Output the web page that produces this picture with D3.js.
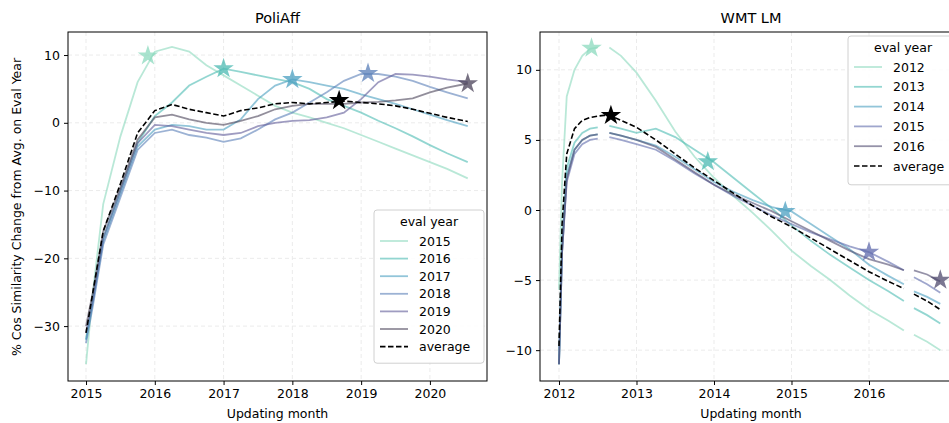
<!DOCTYPE html>
<html><head><meta charset="utf-8">
<script src="https://cdn.jsdelivr.net/npm/d3@7"></script>
<style>body{margin:0;background:#fff}text{font-family:"DejaVu Sans",sans-serif}</style>
</head><body><svg id="chart" width="949" height="423"></svg>
<script>
// PoliAff panel
const leftDates = [2015, 2015.1, 2015.25, 2015.5, 2015.75, 2016, 2016.25, 2016.5, 2016.75, 2017, 2017.25, 2017.5, 2017.75, 2018, 2018.25, 2018.5, 2018.75, 2019, 2019.25, 2019.5, 2019.75, 2020, 2020.25, 2020.55]
const leftYears = ["2015", "2016", "2017", "2018", "2019", "2020"]
const leftSeries = [
	[-35.6, -25, -12, -2, 6, 10.5, 11.2, 10.5, 8.5, 7, 5.5, 4, 2.5, 1.5, 0.8, 0, -0.8, -1.8, -2.8, -3.8, -4.8, -5.8, -6.8, -8.2],
	[-32, -26, -17, -10, -3, 1, 3, 5.5, 6.8, 8, 7.5, 7, 6.5, 6, 5, 3.5, 2.5, 1.5, 0.3, -0.8, -2, -3.3, -4.5, -5.8],
	[-32, -26.5, -17.5, -10.5, -3.5, -1, -0.3, -0.5, -1, -1, 0.5, 3.5, 5.5, 6.4, 6, 5.5, 5, 4.2, 3.5, 2.8, 2, 1.2, 0.4, -0.5],
	[-32.5, -27, -18, -11, -4, -1.5, -1, -1.8, -2.2, -2.8, -2.3, -1, 0.5, 1.5, 3, 4.5, 6.2, 7.2, 7.2, 6.8, 6.2, 5.3, 4.5, 3.6],
	[-31, -26, -17, -10, -3, -0.3, -0.5, -1, -1.5, -1.8, -1.5, -0.5, 0, 0.3, 0.4, 0.8, 1.5, 3.5, 6, 7.2, 7.1, 6.8, 6.4, 6],
	[-30, -25, -16, -9.5, -2.5, 0.8, 1.2, 0.5, 0, -0.3, 0.3, 1, 2, 2.5, 2.8, 2.8, 2.8, 3, 3.1, 3.3, 3.6, 4.5, 5.2, 5.8]
]
const leftAvg = [-31, -25, -16, -9, -1.5, 1.8, 2.7, 2, 1.5, 1, 1.8, 2.2, 2.8, 3, 2.8, 3, 3.2, 3, 2.8, 2.5, 2, 1.4, 0.8, 0.2]
const leftStars = [[0, 2015.9, 9.9], [1, 2017.0, 8.0], [2, 2018.0, 6.4], [3, 2019.1, 7.3], [5, 2020.55, 5.8], [-1, 2018.68, 3.3]]
const leftColors = ["#8bd9bd", "#4bbab2", "#4a9fc0", "#5a7fb8", "#5f5a98", "#4a4258"]

// WMT LM panel (null = gap)
const rightDates = [2012, 2012.04, 2012.1, 2012.2, 2012.3, 2012.4, 2012.5, 2012.58, 2012.65, 2012.8, 2013, 2013.25, 2013.5, 2013.75, 2014, 2014.25, 2014.5, 2014.75, 2015, 2015.25, 2015.5, 2015.75, 2016, 2016.25, 2016.45, 2016.5, 2016.58, 2016.75, 2016.92]
const rightYears = ["2012", "2013", "2014", "2015", "2016"]
const rightSeries = [
	[-5.7, 2, 8.1, 10, 11, 11.5, 11.6, null, 11.6, 11, 9.8, 7.8, 5.6, 3.8, 2.3, 1, -0.2, -1.5, -2.9, -4, -5, -6.1, -7.1, -7.9, -8.6, null, -8.9, -9.4, -10.0],
	[-11, -2, 3, 4.8, 5.5, 5.8, 5.9, null, 6.0, 5.8, 5.5, 5.8, 5.2, 4.3, 3.4, 2.3, 1.2, 0.1, -1.1, -2.2, -3.2, -4.1, -5.0, -5.8, -6.5, null, -7.0, -7.5, -8.1],
	[-11, -3, 2.5, 4.3, 5, 5.3, 5.4, null, 5.5, 5.3, 5.0, 4.6, 3.8, 2.9, 2.0, 1.3, 0.7, 0.2, -0.1, -1.0, -1.9, -2.8, -3.9, -4.7, -5.3, null, -5.8, -6.2, -6.7],
	[-11, -3, 2, 4, 4.7, 5, 5.1, null, 5.2, 5.0, 4.7, 4.3, 3.5, 2.6, 1.8, 1.0, 0.3, -0.4, -1.0, -1.6, -2.1, -2.6, -3.0, -3.7, -4.3, null, -4.8, -5.3, -5.9],
	[-11, -3, 2.2, 4.3, 5.0, 5.3, 5.4, null, 5.5, 5.3, 5.0, 4.5, 3.6, 2.7, 1.8, 1.1, 0.5, -0.1, -0.8, -1.5, -2.2, -2.9, -3.5, -3.9, -4.3, null, -4.3, -4.6, -5.1]
]
const rightAvg = [-9.7, -1, 4, 5.8, 6.4, 6.6, 6.7, 6.75, 6.75, 6.4, 5.9, 5.0, 4.0, 3.0, 2.1, 1.2, 0.3, -0.5, -1.2, -2.0, -2.8, -3.6, -4.4, -5.1, -5.6, null, -6.0, -6.5, -7.1]
const rightStars = [[0, 2012.42, 11.55], [1, 2013.92, 3.45], [2, 2014.92, -0.1], [3, 2016.0, -3.0], [4, 2016.92, -5.0], [-1, 2012.67, 6.75]]
const rightColors = ["#8bd9bd", "#4bbab2", "#4a9fc0", "#5f6aac", "#4f4a6e"]

const svg = d3.select("#chart")

function panel(opt) {
	const g = svg.append("g")
	const x = d3.scaleLinear().domain(opt.xDomain).range([opt.left, opt.right])
	const y = d3.scaleLinear().domain(opt.yDomain).range([381, 32])
	const clipId = "clip" + opt.id
	svg.append("clipPath").attr("id", clipId).append("rect")
		.attr("x", opt.left).attr("y", 32).attr("width", opt.right - opt.left).attr("height", 349)

	// grid
	g.append("g").selectAll("line").data(opt.xTicks).join("line")
		.attr("x1", d => x(d)).attr("x2", d => x(d)).attr("y1", 32).attr("y2", 381)
		.attr("stroke", "#ebebeb").attr("stroke-dasharray", "4,3")
	g.append("g").selectAll("line").data(opt.yTicks).join("line")
		.attr("y1", d => y(d)).attr("y2", d => y(d)).attr("x1", opt.left).attr("x2", opt.right)
		.attr("stroke", "#ebebeb").attr("stroke-dasharray", "4,3")

	const line = d3.line().defined(d => d[1] != null).x(d => x(d[0])).y(d => y(d[1]))
	const plot = g.append("g").attr("clip-path", `url(#${clipId})`)
	opt.series.forEach((s, i) => {
		plot.append("path").datum(opt.dates.map((d, j) => [d, s[j]]))
			.attr("d", line).attr("fill", "none")
			.attr("stroke", opt.colors[i]).attr("stroke-opacity", 0.6).attr("stroke-width", 1.8)
	})
	plot.append("path").datum(opt.dates.map((d, j) => [d, opt.avg[j]]))
		.attr("d", line).attr("fill", "none")
		.attr("stroke", "#000").attr("stroke-width", 1.6).attr("stroke-dasharray", "5.5,2.5")

	const star = d3.symbol().type(d3.symbolStar).size(130)
	plot.selectAll(".star").data(opt.stars).join("path")
		.attr("d", star)
		.attr("transform", d => `translate(${x(d[1])},${y(d[2])})`)
		.attr("fill", d => d[0] < 0 ? "#000" : opt.colors[d[0]])
		.attr("fill-opacity", d => d[0] < 0 ? 1 : 0.75)

	// frame and axes
	g.append("rect").attr("x", opt.left).attr("y", 32).attr("width", opt.right - opt.left).attr("height", 349)
		.attr("fill", "none").attr("stroke", "#000").attr("stroke-width", 1)
	g.append("g").attr("transform", "translate(0,381)")
		.call(d3.axisBottom(x).tickValues(opt.xTicks).tickFormat(d3.format("d")).tickSizeOuter(0).tickSize(4).tickPadding(4))
		.call(a => a.select(".domain").remove())
		.call(a => a.selectAll("text").attr("font-size", 12.5).attr("fill", "#000"))
	g.append("g").attr("transform", `translate(${opt.left},0)`)
		.call(d3.axisLeft(y).tickValues(opt.yTicks).tickFormat(d => d < 0 ? "\u2212" + (-d) : d).tickSizeOuter(0).tickSize(4).tickPadding(4))
		.call(a => a.select(".domain").remove())
		.call(a => a.selectAll("text").attr("font-size", 12.5).attr("fill", "#000"))

	g.append("text").attr("x", (opt.left + opt.titleRight) / 2).attr("y", 23).attr("text-anchor", "middle")
		.attr("font-size", 14.5).text(opt.title)
	g.append("text").attr("x", (opt.left + opt.titleRight) / 2).attr("y", 418).attr("text-anchor", "middle")
		.attr("font-size", 12.5).text("Updating month")

	// legend
	const lg = g.append("g").attr("transform", `translate(${opt.legX},${opt.legY})`)
	const n = opt.years.length + 1
	const sp = opt.legStep
	lg.append("rect").attr("width", 110).attr("height", 30 + n * sp).attr("rx", 3)
		.attr("fill", "#fff").attr("fill-opacity", 0.85).attr("stroke", "#d0d0d0")
	lg.append("text").attr("x", 55).attr("y", 16).attr("text-anchor", "middle").attr("font-size", 12.5).text("eval year")
	opt.years.forEach((yr, i) => {
		const yy = 31 + i * sp
		lg.append("line").attr("x1", 6).attr("x2", 34).attr("y1", yy).attr("y2", yy)
			.attr("stroke", opt.colors[i]).attr("stroke-opacity", 0.6).attr("stroke-width", 1.8)
		lg.append("text").attr("x", 45).attr("y", yy + 4.5).attr("font-size", 12.5).text(yr)
	})
	const ya = 31 + opt.years.length * sp
	lg.append("line").attr("x1", 6).attr("x2", 34).attr("y1", ya).attr("y2", ya)
		.attr("stroke", "#000").attr("stroke-width", 1.6).attr("stroke-dasharray", "5.5,2.5")
	lg.append("text").attr("x", 45).attr("y", ya + 4.5).attr("font-size", 12.5).text("average")
}

panel({id: "L", title: "PoliAff", left: 68, right: 487, titleRight: 487,
	xDomain: [2014.738, 2020.83], yDomain: [-38.1, 13.4],
	xTicks: [2015, 2016, 2017, 2018, 2019, 2020], yTicks: [10, 0, -10, -20, -30],
	dates: leftDates, series: leftSeries, avg: leftAvg, stars: leftStars, colors: leftColors,
	years: leftYears, legX: 374, legY: 210, legStep: 17.6})

panel({id: "R", title: "WMT LM", left: 540, right: 962, titleRight: 962,
	xDomain: [2011.755, 2017.2], yDomain: [-12.2, 12.7],
	xTicks: [2012, 2013, 2014, 2015, 2016], yTicks: [10, 5, 0, -5, -10],
	dates: rightDates, series: rightSeries, avg: rightAvg, stars: rightStars, colors: rightColors,
	years: rightYears, legX: 848, legY: 36, legStep: 19.8})

svg.append("text").attr("transform", "translate(21,207) rotate(-90)").attr("text-anchor", "middle")
	.attr("font-size", 12.5).text("% Cos Similarity Change from Avg. on Eval Year")
</script></body></html>
